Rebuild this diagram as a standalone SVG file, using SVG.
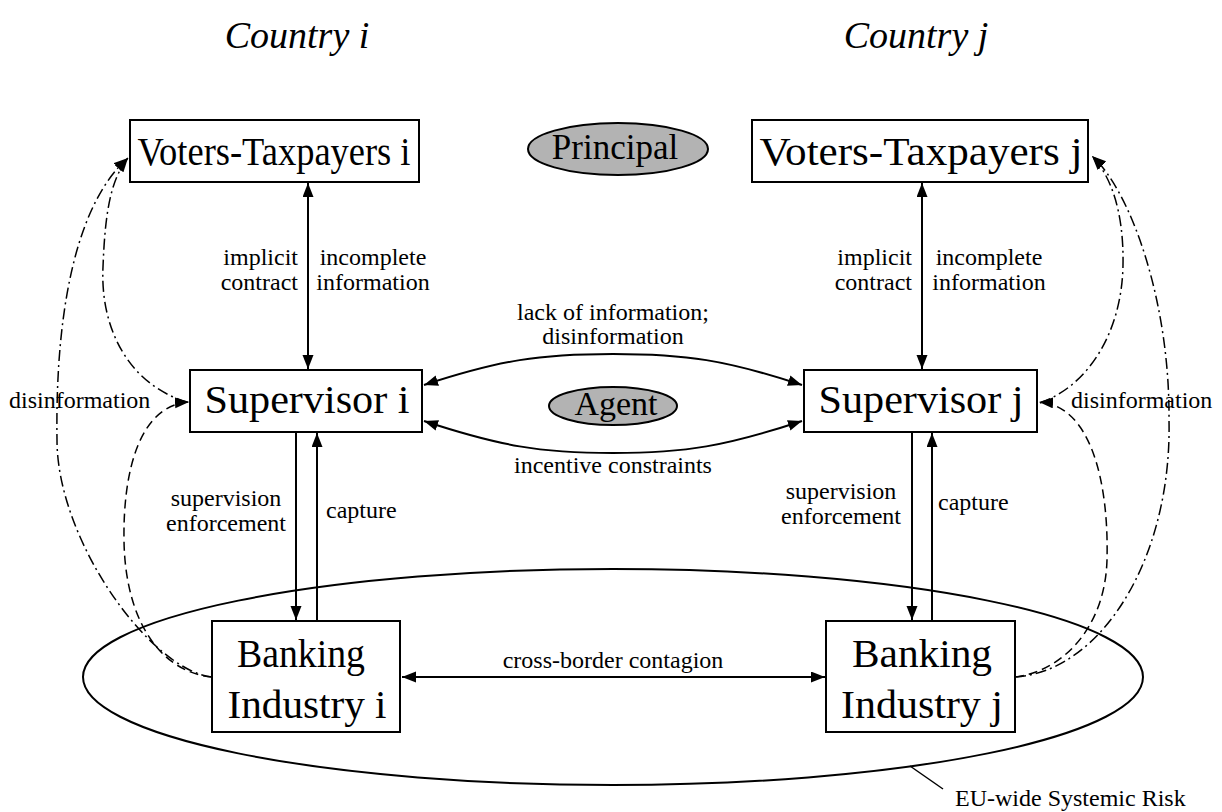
<svg xmlns="http://www.w3.org/2000/svg" width="1222" height="812" viewBox="0 0 1222 812">
<style>
text{font-family:"Liberation Serif","Times New Roman",serif;fill:#000}
.box{fill:#fff;stroke:#000;stroke-width:2}
.oval{fill:#b3b3b3;stroke:#000;stroke-width:2}
.big{font-size:40px;text-anchor:middle}
.lbl{font-size:24px}
.mid{text-anchor:middle}
.end{text-anchor:end}
.ttl{font-size:38px;font-style:italic;text-anchor:middle}
.ln{fill:none;stroke:#000;stroke-width:2}
.dd{fill:none;stroke:#000;stroke-width:1.5;stroke-dasharray:11 4 2 4}
.da{fill:none;stroke:#000;stroke-width:1.5;stroke-dasharray:9 5}
</style>
<defs>
<marker id="ah" markerUnits="userSpaceOnUse" markerWidth="15" markerHeight="12" refX="14" refY="5.5" orient="auto-start-reverse" viewBox="0 0 15 12">
<path d="M0,0 L14,5.5 L0,11 z" fill="#000"/>
</marker>
</defs>

<g id="titles">
<text class="ttl" x="297" y="48">Country i</text>
<text class="ttl" x="916" y="48">Country j</text>
</g>

<g id="risk-ellipse">
<ellipse cx="613" cy="677" rx="530" ry="108" fill="none" stroke="#000" stroke-width="2"/>
<line x1="910" y1="766" x2="943" y2="789" stroke="#000" stroke-width="1.5"/>
<text class="lbl" x="955" y="806">EU-wide Systemic Risk</text>
</g>

<g id="connectors">
<line class="ln" x1="308" y1="183" x2="308" y2="369" marker-start="url(#ah)" marker-end="url(#ah)"/>
<line class="ln" x1="922" y1="183" x2="922" y2="369" marker-start="url(#ah)" marker-end="url(#ah)"/>
<line class="ln" x1="296" y1="433" x2="296" y2="620" marker-end="url(#ah)"/>
<line class="ln" x1="317" y1="621" x2="317" y2="433" marker-end="url(#ah)"/>
<line class="ln" x1="912" y1="433" x2="912" y2="620" marker-end="url(#ah)"/>
<line class="ln" x1="932" y1="621" x2="932" y2="433" marker-end="url(#ah)"/>
<line class="ln" x1="402" y1="677" x2="825" y2="677" marker-start="url(#ah)" marker-end="url(#ah)"/>
<path class="ln" d="M424 385 C500 360 540 354 613 354 C686 354 726 360 802 385" marker-start="url(#ah)" marker-end="url(#ah)"/>
<path class="ln" d="M424 421 C500 446 540 453 613 453 C686 453 726 446 802 421" marker-start="url(#ah)" marker-end="url(#ah)"/>
<path class="dd" d="M212 677 C150 670 57 540 57 440 C55 300 80 200 128 158" marker-end="url(#ah)"/>
<path class="dd" d="M187 402 C130 385 100 330 103 267 C105 215 110 180 128 158" marker-end="url(#ah)"/>
<path class="da" d="M212 677 C160 672 125 620 124 540 C123 470 140 405 189 402" marker-end="url(#ah)"/>
<path class="dd" d="M1015 677 C1100 672 1172 560 1169 420 C1170 300 1130 190 1092 156" marker-end="url(#ah)"/>
<path class="dd" d="M1040 403 C1090 385 1122 330 1123 265 C1124 210 1110 175 1092 156" marker-end="url(#ah)"/>
<path class="da" d="M1015 677 C1060 672 1105 630 1107 560 C1109 480 1090 405 1039 402" marker-end="url(#ah)"/>
<text class="lbl end" x="298" y="265">implicit</text>
<text class="lbl end" x="298" y="290">contract</text>
<text class="lbl mid" x="373" y="265">incomplete</text>
<text class="lbl mid" x="373" y="290">information</text>
<text class="lbl end" x="912" y="265">implicit</text>
<text class="lbl end" x="912" y="290">contract</text>
<text class="lbl mid" x="989" y="265">incomplete</text>
<text class="lbl mid" x="989" y="290">information</text>
<text class="lbl mid" x="613" y="320">lack of information;</text>
<text class="lbl mid" x="613" y="344">disinformation</text>
<text class="lbl mid" x="613" y="473">incentive constraints</text>
<text class="lbl" x="9" y="408">disinformation</text>
<text class="lbl" x="1071" y="408">disinformation</text>
<text class="lbl mid" x="226" y="506">supervision</text>
<text class="lbl mid" x="226" y="531">enforcement</text>
<text class="lbl" x="326" y="518">capture</text>
<text class="lbl mid" x="841" y="499">supervision</text>
<text class="lbl mid" x="841" y="524">enforcement</text>
<text class="lbl" x="938" y="510">capture</text>
<text class="lbl mid" x="613" y="668">cross-border contagion</text>
</g>

<g id="voters-i">
<rect class="box" x="130" y="120" width="289" height="62"/>
<text class="big" x="274" y="165" font-size="38" textLength="273" lengthAdjust="spacingAndGlyphs">Voters-Taxpayers i</text>
</g>
<g id="principal">
<ellipse class="oval" cx="618" cy="149" rx="90" ry="26"/>
<text x="615" y="159" font-size="35" text-anchor="middle">Principal</text>
</g>
<g id="voters-j">
<rect class="box" x="752" y="120" width="336" height="62"/>
<text class="big" x="921" y="165" font-size="38" textLength="323" lengthAdjust="spacingAndGlyphs">Voters-Taxpayers j</text>
</g>
<g id="supervisor-i">
<rect class="box" x="190" y="370" width="232" height="62"/>
<text class="big" x="307" y="413" font-size="41" textLength="205" lengthAdjust="spacingAndGlyphs">Supervisor i</text>
</g>
<g id="agent">
<ellipse class="oval" cx="613" cy="406" rx="64" ry="19"/>
<text x="616" y="415" font-size="34" text-anchor="middle">Agent</text>
</g>
<g id="supervisor-j">
<rect class="box" x="804" y="370" width="233" height="62"/>
<text class="big" x="921" y="413" font-size="41" textLength="205" lengthAdjust="spacingAndGlyphs">Supervisor j</text>
</g>
<g id="banking-i">
<rect class="box" x="212" y="621" width="188" height="111"/>
<text class="big" x="301" y="667" textLength="128" lengthAdjust="spacingAndGlyphs">Banking</text>
<text class="big" x="307" y="718" textLength="159" lengthAdjust="spacingAndGlyphs">Industry i</text>
</g>
<g id="banking-j">
<rect class="box" x="826" y="621" width="189" height="111"/>
<text class="big" x="922" y="667" textLength="140" lengthAdjust="spacingAndGlyphs">Banking</text>
<text class="big" x="922" y="718" textLength="162" lengthAdjust="spacingAndGlyphs">Industry j</text>
</g>
</svg>
